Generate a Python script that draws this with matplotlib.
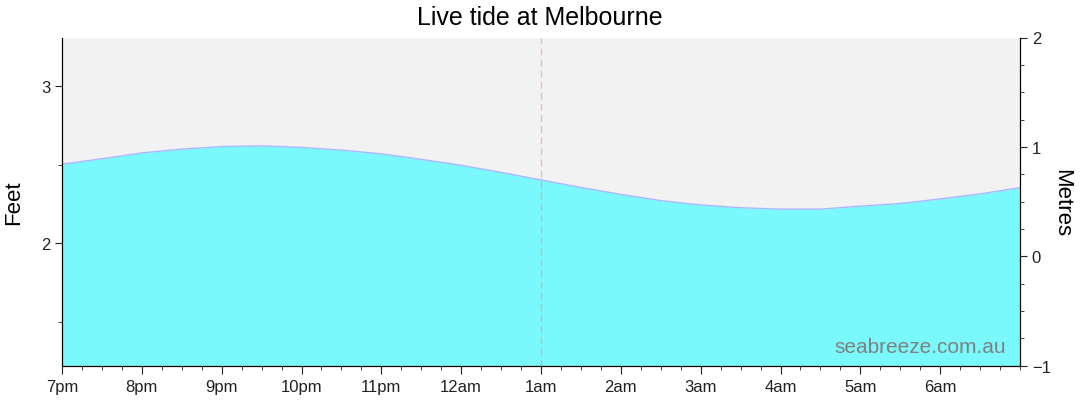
import matplotlib
matplotlib.use("Agg")
from matplotlib import pyplot as plt
from matplotlib.ticker import MultipleLocator, FixedLocator

plt.rcParams["font.family"] = ["Liberation Sans", "DejaVu Sans"]

# hours after 7pm, tide height in feet
hours = [0, 0.5, 1, 1.5, 2, 2.5, 3, 3.5, 4, 4.5, 5, 5.5, 6,
         6.5, 7, 7.5, 8, 8.5, 9, 9.5, 10, 10.5, 11, 11.5, 12]
feet = [2.503, 2.538, 2.575, 2.599, 2.616, 2.620, 2.610, 2.593, 2.569, 2.534, 2.496, 2.451, 2.403,
        2.355, 2.311, 2.271, 2.244, 2.226, 2.217, 2.217, 2.236, 2.253, 2.282, 2.314, 2.354]
hour_labels = ["7pm", "8pm", "9pm", "10pm", "11pm", "12am", "1am",
               "2am", "3am", "4am", "5am", "6am"]
now_hour = 6

fig = plt.figure(figsize=(10.8, 4.14), dpi=100)
ax = fig.add_axes([62 / 1080, 1 - 366.7 / 414, 958 / 1080, 328.2 / 414])
ax.set_facecolor("#f2f2f2")

ax.fill_between(hours, feet, 0, color="#7af9fc", lw=0)
ax.plot(hours, feet, color="#a9b8ff", lw=1)
ax.axvline(now_hour, color="#e89090", alpha=0.55, lw=1, ls=(0, (5, 3)))

ax.set_xlim(0, 12)
ax.set_ylim(1.22, 3.31)
ax.set_xticks(range(12))
ax.set_xticklabels(hour_labels)
ax.xaxis.set_minor_locator(MultipleLocator(0.25))
ax.yaxis.set_major_locator(FixedLocator([2, 3]))
ax.yaxis.set_minor_locator(FixedLocator([1.5, 2.5]))
ax.set_ylabel("Feet", fontsize=16, labelpad=12)

ax2 = ax.twinx()
ax2.set_ylim(-1, 2)
ax2.yaxis.set_major_locator(MultipleLocator(1))
ax2.yaxis.set_minor_locator(MultipleLocator(0.25))
ax2.set_ylabel("Metres", fontsize=16, rotation=270, labelpad=8, va="center")

for a in (ax, ax2):
    a.spines["top"].set_visible(False)
    a.tick_params(which="major", length=5, labelsize=12, colors="#222222")
    a.tick_params(which="minor", length=3, color="#222222")
ax.tick_params(axis="x", which="major", length=6)

ax.text(0.985, 0.03, "seabreeze.com.au", transform=ax.transAxes,
        ha="right", va="bottom", fontsize=15, color="#808080")

fig.text(0.5, 1 - 18 / 414, "Live tide at Melbourne", fontsize=18,
         ha="center", va="center")

fig.savefig("out.png", dpi=100)
